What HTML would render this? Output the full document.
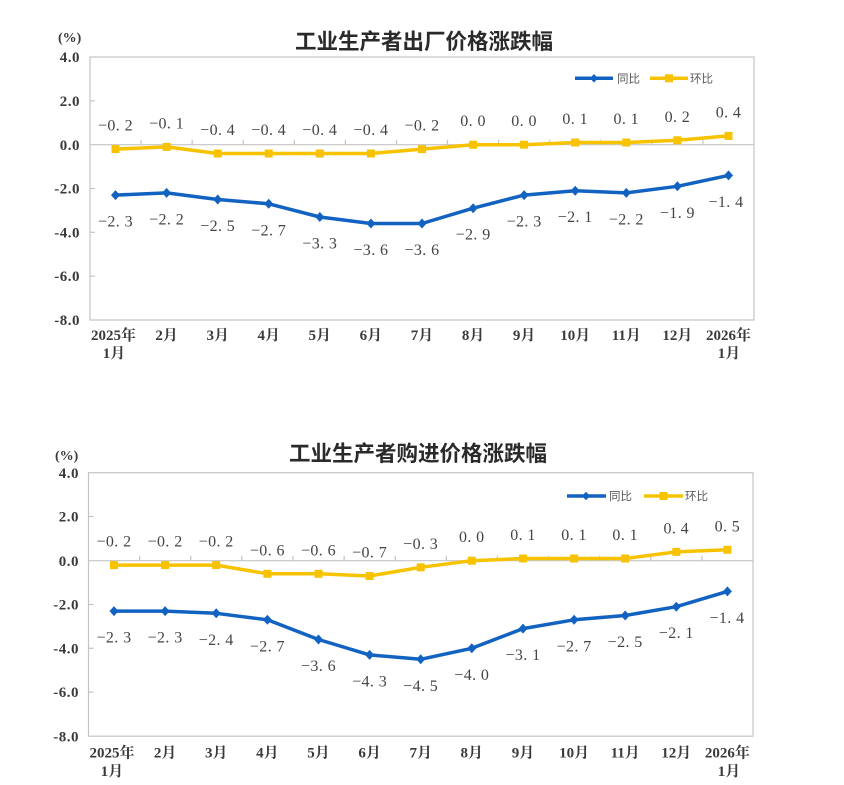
<!DOCTYPE html>
<html><head><meta charset="utf-8">
<style>
html,body{margin:0;padding:0;background:#fff;}
svg{display:block;}
.t{font-family:"Liberation Sans","Noto Sans CJK SC",sans-serif;font-weight:bold;font-size:21.5px;fill:#2a2a2a;text-anchor:middle;}
.ya{font-family:"Liberation Serif","Noto Serif CJK SC",serif;font-weight:bold;font-size:15px;fill:#3a3a3a;text-anchor:end;letter-spacing:0.5px;}
.xa{font-family:"Liberation Serif","Noto Serif CJK SC",serif;font-weight:bold;font-size:15px;fill:#3a3a3a;text-anchor:middle;}
.dl{font-family:"Liberation Serif","Noto Serif CJK SC",serif;font-size:16px;fill:#444;text-anchor:middle;letter-spacing:0.4px;}
.lg{font-family:"Liberation Sans","Noto Sans CJK SC",sans-serif;font-size:11.5px;fill:#5a5a5a;}
.pc{font-family:"Liberation Serif",serif;font-weight:bold;font-size:14px;fill:#3a3a3a;}
</style></head><body>
<svg width="844" height="785" viewBox="0 0 844 785" xmlns="http://www.w3.org/2000/svg">
<rect width="844" height="785" fill="#fff"/>

<!-- ================= CHART 1 ================= -->
<text class="t" x="424" y="49">工业生产者出厂价格涨跌幅</text>
<text class="pc" x="58" y="42">(%)</text>
<rect x="90" y="57" width="664" height="263" fill="none" stroke="#c4c4c4" stroke-width="1.2"/>
<line x1="90" y1="144.7" x2="754" y2="144.7" stroke="#c4c4c4" stroke-width="1.2"/>
<g stroke="#c4c4c4" stroke-width="1.2">
<line x1="90" y1="100.9" x2="95" y2="100.9"/>
<line x1="90" y1="188.5" x2="95" y2="188.5"/>
<line x1="90" y1="232.3" x2="95" y2="232.3"/>
<line x1="90" y1="276.1" x2="95" y2="276.1"/>
<line x1="141.1" y1="139.7" x2="141.1" y2="144.7"/>
<line x1="192.2" y1="139.7" x2="192.2" y2="144.7"/>
<line x1="243.2" y1="139.7" x2="243.2" y2="144.7"/>
<line x1="294.3" y1="139.7" x2="294.3" y2="144.7"/>
<line x1="345.4" y1="139.7" x2="345.4" y2="144.7"/>
<line x1="396.5" y1="139.7" x2="396.5" y2="144.7"/>
<line x1="447.5" y1="139.7" x2="447.5" y2="144.7"/>
<line x1="498.6" y1="139.7" x2="498.6" y2="144.7"/>
<line x1="549.7" y1="139.7" x2="549.7" y2="144.7"/>
<line x1="600.8" y1="139.7" x2="600.8" y2="144.7"/>
<line x1="651.8" y1="139.7" x2="651.8" y2="144.7"/>
<line x1="702.9" y1="139.7" x2="702.9" y2="144.7"/>
</g>
<text class="ya" x="80" y="62">4.0</text>
<text class="ya" x="80" y="106">2.0</text>
<text class="ya" x="80" y="150">0.0</text>
<text class="ya" x="80" y="193.5">-2.0</text>
<text class="ya" x="80" y="237.5">-4.0</text>
<text class="ya" x="80" y="281">-6.0</text>
<text class="ya" x="80" y="325">-8.0</text>

<g class="xa">
<text x="113.5" y="340">2025年</text><text x="114" y="358">1月</text>
<text x="166.6" y="340">2月</text>
<text x="217.7" y="340">3月</text>
<text x="268.7" y="340">4月</text>
<text x="319.8" y="340">5月</text>
<text x="370.9" y="340">6月</text>
<text x="422" y="340">7月</text>
<text x="473.1" y="340">8月</text>
<text x="524.1" y="340">9月</text>
<text x="575.2" y="340">10月</text>
<text x="626.3" y="340">11月</text>
<text x="677.4" y="340">12月</text>
<text x="728.5" y="340">2026年</text><text x="729" y="358">1月</text>
</g>

<!-- yellow 1 -->
<polyline fill="none" stroke="#f7c300" stroke-width="3.5" stroke-linejoin="round" points="115.5,149.1 166.6,146.9 217.7,153.5 268.7,153.5 319.8,153.5 370.9,153.5 422,149.1 473.1,144.7 524.1,144.7 575.2,142.5 626.3,142.5 677.4,140.3 728.5,135.9"/>
<g fill="#f7c300">
<rect x="111.5" y="145.1" width="8" height="8"/>
<rect x="162.6" y="142.9" width="8" height="8"/>
<rect x="213.7" y="149.5" width="8" height="8"/>
<rect x="264.7" y="149.5" width="8" height="8"/>
<rect x="315.8" y="149.5" width="8" height="8"/>
<rect x="366.9" y="149.5" width="8" height="8"/>
<rect x="418" y="145.1" width="8" height="8"/>
<rect x="469.1" y="140.7" width="8" height="8"/>
<rect x="520.1" y="140.7" width="8" height="8"/>
<rect x="571.2" y="138.5" width="8" height="8"/>
<rect x="622.3" y="138.5" width="8" height="8"/>
<rect x="673.4" y="136.3" width="8" height="8"/>
<rect x="724.5" y="131.9" width="8" height="8"/>
</g>
<!-- blue 1 -->
<polyline fill="none" stroke="#1262c2" stroke-width="3.5" stroke-linejoin="round" points="115.5,195.1 166.6,192.9 217.7,199.5 268.7,203.8 319.8,217 370.9,223.5 422,223.5 473.1,208.2 524.1,195.1 575.2,190.7 626.3,192.9 677.4,186.3 728.5,175.4"/>
<g fill="#1262c2">
<polygon points="115.5,190.1 120,195.1 115.5,200.1 111,195.1"/>
<polygon points="166.6,187.9 171.1,192.9 166.6,197.9 162.1,192.9"/>
<polygon points="217.7,194.5 222.2,199.5 217.7,204.5 213.2,199.5"/>
<polygon points="268.7,198.8 273.2,203.8 268.7,208.8 264.2,203.8"/>
<polygon points="319.8,212 324.3,217 319.8,222 315.3,217"/>
<polygon points="370.9,218.5 375.4,223.5 370.9,228.5 366.4,223.5"/>
<polygon points="422,218.5 426.5,223.5 422,228.5 417.5,223.5"/>
<polygon points="473.1,203.2 477.6,208.2 473.1,213.2 468.6,208.2"/>
<polygon points="524.1,190.1 528.6,195.1 524.1,200.1 519.6,195.1"/>
<polygon points="575.2,185.7 579.7,190.7 575.2,195.7 570.7,190.7"/>
<polygon points="626.3,187.9 630.8,192.9 626.3,197.9 621.8,192.9"/>
<polygon points="677.4,181.3 681.9,186.3 677.4,191.3 672.9,186.3"/>
<polygon points="728.5,170.4 733,175.4 728.5,180.4 724,175.4"/>
</g>
<g class="dl">
<text x="115.5" y="130.6">−0. 2</text>
<text x="166.6" y="128.4">−0. 1</text>
<text x="217.7" y="135">−0. 4</text>
<text x="268.7" y="135">−0. 4</text>
<text x="319.8" y="135">−0. 4</text>
<text x="370.9" y="135">−0. 4</text>
<text x="422" y="130.6">−0. 2</text>
<text x="473.1" y="126.2">0. 0</text>
<text x="524.1" y="126.2">0. 0</text>
<text x="575.2" y="124">0. 1</text>
<text x="626.3" y="124">0. 1</text>
<text x="677.4" y="121.8">0. 2</text>
<text x="728.5" y="117.4">0. 4</text>

<text x="115.5" y="226.6">−2. 3</text>
<text x="166.6" y="224.4">−2. 2</text>
<text x="217.7" y="231">−2. 5</text>
<text x="268.7" y="235.3">−2. 7</text>
<text x="319.8" y="248.5">−3. 3</text>
<text x="370.9" y="255">−3. 6</text>
<text x="422" y="255">−3. 6</text>
<text x="473.1" y="239.7">−2. 9</text>
<text x="524.1" y="226.6">−2. 3</text>
<text x="575.2" y="222.2">−2. 1</text>
<text x="626.3" y="224.4">−2. 2</text>
<text x="677.4" y="217.8">−1. 9</text>
<text x="726" y="207">−1. 4</text>
</g>
<!-- legend 1 -->
<line x1="575" y1="78.3" x2="613" y2="78.3" stroke="#1262c2" stroke-width="3.5"/>
<polygon points="594,74 598,78.3 594,82.6 590,78.3" fill="#1262c2"/>
<text class="lg" x="617" y="82.5">同比</text>
<line x1="650" y1="78.3" x2="688" y2="78.3" stroke="#f7c300" stroke-width="3.5"/>
<rect x="665" y="74.3" width="8" height="8" fill="#f7c300"/>
<text class="lg" x="690" y="82.5">环比</text>

<!-- ================= CHART 2 ================= -->
<text class="t" x="418" y="461">工业生产者购进价格涨跌幅</text>
<text class="pc" x="55" y="460">(%)</text>
<rect x="88.5" y="472.7" width="664.5" height="263.5" fill="none" stroke="#c4c4c4" stroke-width="1.2"/>
<line x1="88.5" y1="560.7" x2="753" y2="560.7" stroke="#c4c4c4" stroke-width="1.2"/>
<g stroke="#c4c4c4" stroke-width="1.2">
<line x1="88.5" y1="516.5" x2="93.5" y2="516.5"/>
<line x1="88.5" y1="604.5" x2="93.5" y2="604.5"/>
<line x1="88.5" y1="648.3" x2="93.5" y2="648.3"/>
<line x1="88.5" y1="692.1" x2="93.5" y2="692.1"/>
<line x1="139.6" y1="555.7" x2="139.6" y2="560.7"/>
<line x1="190.7" y1="555.7" x2="190.7" y2="560.7"/>
<line x1="241.8" y1="555.7" x2="241.8" y2="560.7"/>
<line x1="292.9" y1="555.7" x2="292.9" y2="560.7"/>
<line x1="344.1" y1="555.7" x2="344.1" y2="560.7"/>
<line x1="395.2" y1="555.7" x2="395.2" y2="560.7"/>
<line x1="446.3" y1="555.7" x2="446.3" y2="560.7"/>
<line x1="497.4" y1="555.7" x2="497.4" y2="560.7"/>
<line x1="548.5" y1="555.7" x2="548.5" y2="560.7"/>
<line x1="599.6" y1="555.7" x2="599.6" y2="560.7"/>
<line x1="650.8" y1="555.7" x2="650.8" y2="560.7"/>
<line x1="701.9" y1="555.7" x2="701.9" y2="560.7"/>
</g>
<text class="ya" x="79" y="478">4.0</text>
<text class="ya" x="79" y="521.5">2.0</text>
<text class="ya" x="79" y="566">0.0</text>
<text class="ya" x="79" y="609.5">-2.0</text>
<text class="ya" x="79" y="653.5">-4.0</text>
<text class="ya" x="79" y="697">-6.0</text>
<text class="ya" x="79" y="741.5">-8.0</text>

<g class="xa">
<text x="112" y="757.5">2025年</text><text x="112" y="776">1月</text>
<text x="165.1" y="757.5">2月</text>
<text x="216.2" y="757.5">3月</text>
<text x="267.4" y="757.5">4月</text>
<text x="318.5" y="757.5">5月</text>
<text x="369.6" y="757.5">6月</text>
<text x="420.7" y="757.5">7月</text>
<text x="471.8" y="757.5">8月</text>
<text x="523" y="757.5">9月</text>
<text x="574.1" y="757.5">10月</text>
<text x="625.2" y="757.5">11月</text>
<text x="676.3" y="757.5">12月</text>
<text x="727.4" y="757.5">2026年</text><text x="729" y="776">1月</text>
</g>

<!-- yellow 2 -->
<polyline fill="none" stroke="#f7c300" stroke-width="3.5" stroke-linejoin="round" points="114,565.1 165.1,565.1 216.2,565.1 267.4,573.8 318.5,573.8 369.6,576 420.7,567.3 471.8,560.7 523,558.5 574.1,558.5 625.2,558.5 676.3,551.9 727.4,549.8"/>
<g fill="#f7c300">
<rect x="110" y="561.1" width="8" height="8"/>
<rect x="161.1" y="561.1" width="8" height="8"/>
<rect x="212.2" y="561.1" width="8" height="8"/>
<rect x="263.4" y="569.8" width="8" height="8"/>
<rect x="314.5" y="569.8" width="8" height="8"/>
<rect x="365.6" y="572" width="8" height="8"/>
<rect x="416.7" y="563.3" width="8" height="8"/>
<rect x="467.8" y="556.7" width="8" height="8"/>
<rect x="519" y="554.5" width="8" height="8"/>
<rect x="570.1" y="554.5" width="8" height="8"/>
<rect x="621.2" y="554.5" width="8" height="8"/>
<rect x="672.3" y="547.9" width="8" height="8"/>
<rect x="723.4" y="545.8" width="8" height="8"/>
</g>
<!-- blue 2 -->
<polyline fill="none" stroke="#1262c2" stroke-width="3.5" stroke-linejoin="round" points="114,611.1 165.1,611.1 216.2,613.3 267.4,619.8 318.5,639.5 369.6,654.9 420.7,659.3 471.8,648.3 523,628.6 574.1,619.8 625.2,615.5 676.3,606.7 727.4,591.4"/>
<g fill="#1262c2">
<polygon points="114,606.1 118.5,611.1 114,616.1 109.5,611.1"/>
<polygon points="165.1,606.1 169.6,611.1 165.1,616.1 160.6,611.1"/>
<polygon points="216.2,608.3 220.7,613.3 216.2,618.3 211.7,613.3"/>
<polygon points="267.4,614.8 271.9,619.8 267.4,624.8 262.9,619.8"/>
<polygon points="318.5,634.5 323,639.5 318.5,644.5 314,639.5"/>
<polygon points="369.6,649.9 374.1,654.9 369.6,659.9 365.1,654.9"/>
<polygon points="420.7,654.3 425.2,659.3 420.7,664.3 416.2,659.3"/>
<polygon points="471.8,643.3 476.3,648.3 471.8,653.3 467.3,648.3"/>
<polygon points="523,623.6 527.5,628.6 523,633.6 518.5,628.6"/>
<polygon points="574.1,614.8 578.6,619.8 574.1,624.8 569.6,619.8"/>
<polygon points="625.2,610.5 629.7,615.5 625.2,620.5 620.7,615.5"/>
<polygon points="676.3,601.7 680.8,606.7 676.3,611.7 671.8,606.7"/>
<polygon points="727.4,586.4 731.9,591.4 727.4,596.4 722.9,591.4"/>
</g>
<g class="dl">
<text x="114" y="546.6">−0. 2</text>
<text x="165.1" y="546.6">−0. 2</text>
<text x="216.2" y="546.6">−0. 2</text>
<text x="267.4" y="555.3">−0. 6</text>
<text x="318.5" y="555.3">−0. 6</text>
<text x="369.6" y="557.5">−0. 7</text>
<text x="420.7" y="548.8">−0. 3</text>
<text x="471.8" y="542.2">0. 0</text>
<text x="523" y="540">0. 1</text>
<text x="574.1" y="540">0. 1</text>
<text x="625.2" y="540">0. 1</text>
<text x="676.3" y="533.4">0. 4</text>
<text x="727.4" y="531.3">0. 5</text>

<text x="114" y="642.6">−2. 3</text>
<text x="165.1" y="642.6">−2. 3</text>
<text x="216.2" y="644.8">−2. 4</text>
<text x="267.4" y="651.3">−2. 7</text>
<text x="318.5" y="671">−3. 6</text>
<text x="369.6" y="686.4">−4. 3</text>
<text x="420.7" y="690.8">−4. 5</text>
<text x="471.8" y="679.8">−4. 0</text>
<text x="523" y="660.1">−3. 1</text>
<text x="574.1" y="651.3">−2. 7</text>
<text x="625.2" y="647">−2. 5</text>
<text x="676.3" y="638.2">−2. 1</text>
<text x="727" y="622.9">−1. 4</text>
</g>
<!-- legend 2 -->
<line x1="567" y1="496" x2="606" y2="496" stroke="#1262c2" stroke-width="3.5"/>
<polygon points="586,491.7 590,496 586,500.3 582,496" fill="#1262c2"/>
<text class="lg" x="609" y="500.2">同比</text>
<line x1="644" y1="496" x2="683" y2="496" stroke="#f7c300" stroke-width="3.5"/>
<rect x="659.5" y="492" width="8" height="8" fill="#f7c300"/>
<text class="lg" x="685" y="500.2">环比</text>
</svg>
</body></html>
